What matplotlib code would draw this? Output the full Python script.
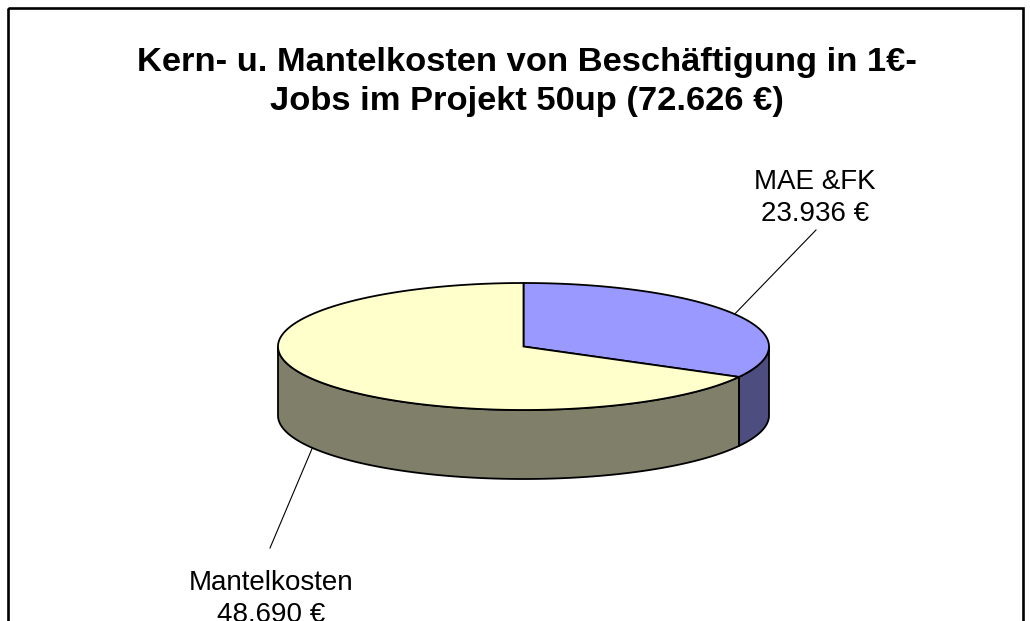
import numpy as np
import matplotlib.pyplot as plt
from matplotlib.patches import Polygon, Rectangle

plt.rcParams['font.family'] = ['Liberation Sans', 'DejaVu Sans']

# Daten
labels = ['MAE &FK', 'Mantelkosten']
values = [23936, 48690]
value_labels = ['23.936 €', '48.690 €']
top_colors = ['#9999FF', '#FFFFCC']
side_colors = ['#4D4D80', '#80806A']
title = 'Kern- u. Mantelkosten von Beschäftigung in 1€-\nJobs im Projekt 50up (72.626 €)'

fig = plt.figure(figsize=(10.30, 6.21), dpi=100)
ax = fig.add_axes([0, 0, 1, 1])
ax.set_xlim(0, 1030)
ax.set_ylim(621, 0)
ax.axis('off')

# Rahmen
ax.add_patch(Rectangle((7.5, 7.5), 1015, 640, fill=False, lw=1.9, ec='black', zorder=0))

# Geometrie der 3D-Torte (Pixel)
cx, cy, rx, ry, depth = 523.5, 346.5, 245.5, 63.5, 69


def pt(t, dy=0.0):
    t = np.radians(t)
    return np.column_stack([cx + rx * np.cos(t), cy - ry * np.sin(t) + dy])


total = sum(values)
angles = []
start = 90.0
for v in values:
    end = start - v / total * 360.0
    angles.append((start, end))
    start = end

# Seitenwände (nur Vorderseite, -180..0)
for (a0, a1), col in zip(angles, side_colors):
    lo, hi = max(a1, -180.0), min(a0, 0.0)
    if lo >= hi:
        continue
    t = np.linspace(lo, hi, 200)
    pts = np.vstack([pt(t), pt(t[::-1], depth)])
    ax.add_patch(Polygon(pts, closed=True, fc=col, ec='black', lw=1.3, zorder=1))

# Oberseite
for (a0, a1), col in zip(angles, top_colors):
    t = np.linspace(a1, a0, 300)
    pts = np.vstack([[[cx, cy]], pt(t)])
    ax.add_patch(Polygon(pts, closed=True, fc=col, ec='black', lw=1.3, zorder=2))

# Beschriftungen mit Führungslinien
label_pos = [(815, 221), (271, 622)]
line_end = [(816, 230), (270, 548)]
for i, ((a0, a1), lab, vl) in enumerate(zip(angles, labels, value_labels)):
    mid = (a0 + a1) / 2
    dy = depth if np.sin(np.radians(mid)) < 0 else 0
    p = pt(np.array([mid]), dy)[0]
    ax.plot([p[0], line_end[i][0]], [p[1], line_end[i][1]], color='black', lw=0.8, zorder=3)
    ax.text(label_pos[i][0], label_pos[i][1], lab + '\n' + vl, ha='center', va='baseline',
            fontsize=20, linespacing=1.3)

ax.text(527, 110, title, ha='center', va='baseline', fontsize=24.8, fontweight='bold',
        linespacing=1.35)

fig.savefig('out.png', dpi=100)
